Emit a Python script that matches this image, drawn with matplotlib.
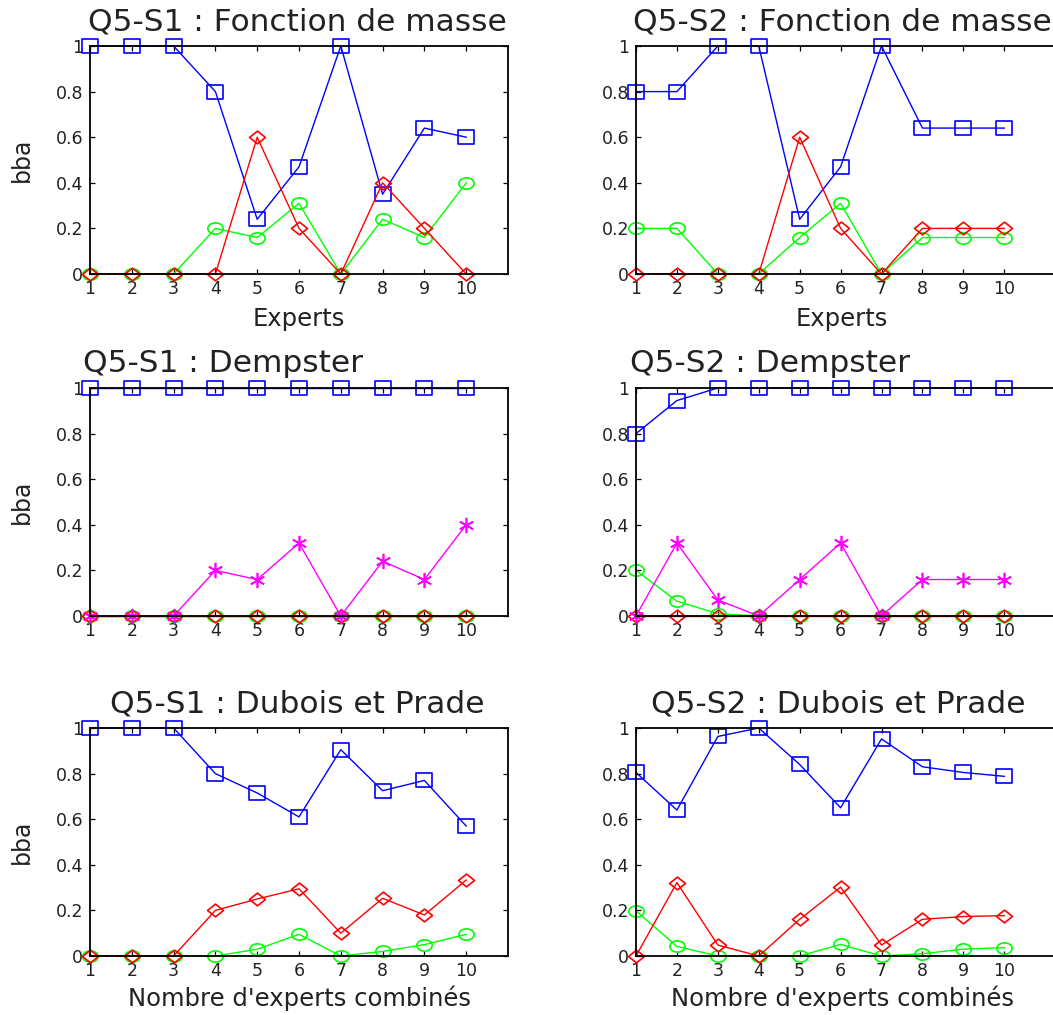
"""
Q5 : masses (bba) of the experts and their combination, Dempster vs Dubois et Prade.
"""

import matplotlib

matplotlib.use("Agg")
import matplotlib.pyplot as plt
from matplotlib.path import Path
from matplotlib.transforms import Affine2D


EXPERTS = list(range(1, 11))
Y_TICKS = [0, 0.2, 0.4, 0.6, 0.8, 1]
Y_TICK_LABELS = ["0", "0.2", "0.4", "0.6", "0.8", "1"]

TITLES = [
    ["Q5-S1 : Fonction de masse", "Q5-S2 : Fonction de masse"],
    ["Q5-S1 : Dempster", "Q5-S2 : Dempster"],
    ["Q5-S1 : Dubois et Prade", "Q5-S2 : Dubois et Prade"],
]
XLABELS = ["Experts", None, "Nombre d'experts combinés"]
YLABEL = "bba"

# row 1 : fonctions de masse des experts
S1_MASSE_BLUE = [1, 1, 1, 0.8, 0.24, 0.47, 1, 0.35, 0.64, 0.6]
S1_MASSE_GREEN = [0, 0, 0, 0.2, 0.16, 0.31, 0, 0.24, 0.16, 0.4]
S1_MASSE_RED = [0, 0, 0, 0, 0.6, 0.2, 0, 0.4, 0.2, 0]

S2_MASSE_BLUE = [0.8, 0.8, 1, 1, 0.24, 0.47, 1, 0.64, 0.64, 0.64]
S2_MASSE_GREEN = [0.2, 0.2, 0, 0, 0.16, 0.31, 0, 0.16, 0.16, 0.16]
S2_MASSE_RED = [0, 0, 0, 0, 0.6, 0.2, 0, 0.2, 0.2, 0.2]

# row 2 : combinaison de Dempster
S1_DEMP_BLUE = [1, 1, 1, 1, 1, 1, 1, 1, 1, 1]
S1_DEMP_GREEN = [0, 0, 0, 0, 0, 0, 0, 0, 0, 0]
S1_DEMP_RED = [0, 0, 0, 0, 0, 0, 0, 0, 0, 0]
S1_DEMP_CONFLICT = [0, 0, 0, 0.2, 0.16, 0.32, 0, 0.24, 0.16, 0.4]

S2_DEMP_BLUE = [0.8, 0.945, 1, 1, 1, 1, 1, 1, 1, 1]
S2_DEMP_GREEN = [0.2, 0.065, 0.01, 0, 0, 0, 0, 0, 0, 0]
S2_DEMP_RED = [0, 0, 0, 0, 0, 0, 0, 0, 0, 0]
S2_DEMP_CONFLICT = [0, 0.32, 0.07, 0, 0.16, 0.32, 0, 0.16, 0.16, 0.16]

# row 3 : combinaison de Dubois et Prade
S1_DP_BLUE = [1, 1, 1, 0.8, 0.715, 0.61, 0.905, 0.725, 0.77, 0.57]
S1_DP_GREEN = [0, 0, 0, 0, 0.03, 0.095, 0, 0.02, 0.05, 0.095]
S1_DP_RED = [0, 0, 0, 0.2, 0.25, 0.295, 0.1, 0.253, 0.18, 0.333]

S2_DP_BLUE = [0.805, 0.64, 0.963, 1, 0.84, 0.65, 0.952, 0.83, 0.805, 0.788]
S2_DP_GREEN = [0.198, 0.042, 0, 0, 0, 0.051, 0, 0.01, 0.03, 0.037]
S2_DP_RED = [0, 0.322, 0.048, 0, 0.161, 0.302, 0.048, 0.161, 0.173, 0.177]

PANELS = [
    [(S1_MASSE_BLUE, S1_MASSE_GREEN, S1_MASSE_RED, None),
     (S2_MASSE_BLUE, S2_MASSE_GREEN, S2_MASSE_RED, None)],
    [(S1_DEMP_BLUE, S1_DEMP_GREEN, S1_DEMP_RED, S1_DEMP_CONFLICT),
     (S2_DEMP_BLUE, S2_DEMP_GREEN, S2_DEMP_RED, S2_DEMP_CONFLICT)],
    [(S1_DP_BLUE, S1_DP_GREEN, S1_DP_RED, None),
     (S2_DP_BLUE, S2_DP_GREEN, S2_DP_RED, None)],
]

# the source picture is slightly stretched sideways, markers included
SQUARE = Path.unit_rectangle().transformed(Affine2D().translate(-0.5, -0.5).scale(1.15, 1.0))
ELLIPSE = Path.unit_circle().transformed(Affine2D().scale(1.35, 1.0))
DIAMOND = Path([(0, -1), (1.25, 0), (0, 1), (-1.25, 0), (0, -1)], closed=True)

W, H = 1053, 1015
COL_LEFT = [90, 636]
COL_RIGHT = [508, 1064]
COL_XMAX = [11, 11.46]
ROW_TOP = [46, 388, 728]
ROW_BOTTOM = [274, 616, 956]
TITLE_POS = [[(-0.005, "left"), (-0.007, "left")],
             [(-0.017, "left"), (-0.014, "left")],
             [(0.495, "center"), (0.472, "center")]]
TEXT = "#222222"


def plot_panel(ax, series):
    blue, green, red, conflict = series
    style = dict(linewidth=1.0, markeredgewidth=1.2, markerfacecolor="none", clip_on=False)
    ax.plot(EXPERTS, blue, color="#0000ff", marker=SQUARE, markersize=11, **style)
    ax.plot(EXPERTS, green, color="#00ff00", marker=ELLIPSE, markersize=11, **style)
    ax.plot(EXPERTS, red, color="#ff0000", marker=DIAMOND, markersize=11.5, **style)
    if conflict is not None:
        ax.plot(EXPERTS, conflict, color="#ff00ff", marker=(6, 2, 0), markersize=11, **style)


fig = plt.figure(figsize=(W / 100, H / 100), dpi=100)

for row in range(3):
    for col in range(2):
        left, right = COL_LEFT[col], COL_RIGHT[col]
        top, bottom = ROW_TOP[row], ROW_BOTTOM[row]
        ax = fig.add_axes([left / W, 1 - bottom / H, (right - left) / W, (bottom - top) / H])
        plot_panel(ax, PANELS[row][col])

        ax.set_xlim(1, COL_XMAX[col])
        ax.set_ylim(0, 1)
        ax.set_xticks(EXPERTS)
        ax.set_yticks(Y_TICKS)
        ax.set_yticklabels(Y_TICK_LABELS)
        ax.tick_params(direction="in", top=True, right=True, length=3.5, width=0.9,
                       labelsize=12.5, labelcolor=TEXT)
        ax.tick_params(axis="x", pad=4)
        ax.tick_params(axis="y", pad=5)
        for spine in ax.spines.values():
            spine.set_linewidth(1.3)

        tx, ha = TITLE_POS[row][col]
        ax.text(tx, 1.068, TITLES[row][col], transform=ax.transAxes, ha=ha, va="baseline",
                fontsize=22.5, color=TEXT)

        if XLABELS[row]:
            ax.set_xlabel(XLABELS[row], fontsize=17.5, color=TEXT)
            ax.xaxis.set_label_coords(0.5 if col == 0 else 0.482, -0.145 if row == 0 else -0.13)
        if col == 0:
            ax.set_ylabel(YLABEL, fontsize=17, color=TEXT)
            ax.yaxis.set_label_coords(-0.135, 0.5)

fig.savefig("out.png", dpi=100)
